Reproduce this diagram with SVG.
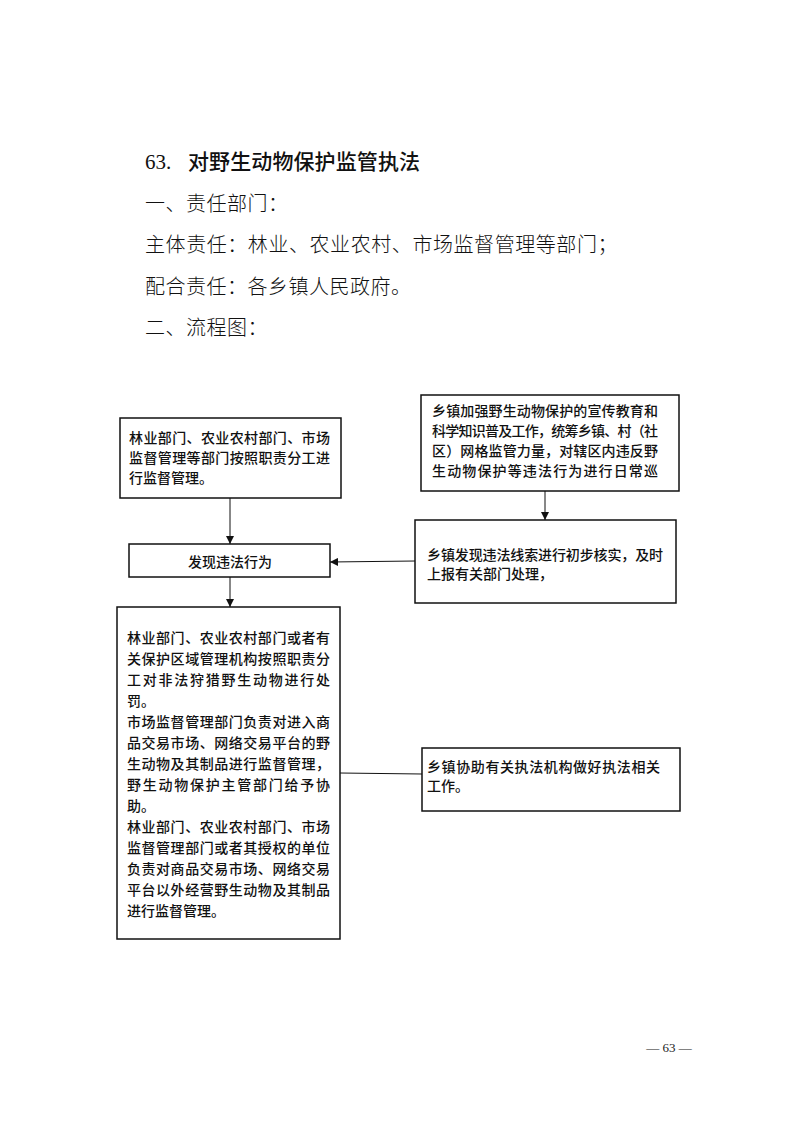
<svg xmlns="http://www.w3.org/2000/svg" width="793" height="1122" viewBox="0 0 793 1122">
<defs>
<style>
.h{font-family:"Noto Sans CJK SC","Noto Sans",sans-serif;font-size:20px;font-weight:300;fill:#111;letter-spacing:0.5px}
.t{font-family:"Noto Sans CJK SC",sans-serif;font-size:21px;font-weight:500;fill:#111}
.n{font-family:"Liberation Serif",serif;font-size:21px;fill:#111}
.b{font-family:"Noto Sans CJK SC",sans-serif;font-size:14px;font-weight:500;fill:#111}
.box{fill:#fff;stroke:#111;stroke-width:1.5}
.ln{fill:none;stroke:#111;stroke-width:1}
.f{font-family:"Liberation Serif",serif;font-size:13px;fill:#222}
</style>
<marker id="ar" viewBox="0 0 10 10" refX="10" refY="5" markerWidth="8" markerHeight="8" markerUnits="userSpaceOnUse" orient="auto">
<path d="M0,0 L10,5 L0,10 z" fill="#111"/>
</marker>
</defs>
<rect width="793" height="1122" fill="#fff"/>

<g id="heading">
<text class="n" x="145" y="169">63.</text>
<text class="t" x="188" y="169" textLength="232">对野生动物保护监管执法</text>
<text class="h" x="145" y="211">一、责任部门：</text>
<text class="h" x="145" y="252" textLength="473">主体责任：林业、农业农村、市场监督管理等部门；</text>
<text class="h" x="145" y="294">配合责任：各乡镇人民政府。</text>
<text class="h" x="145" y="335">二、流程图：</text>
</g>

<g id="connectors">
<line class="ln" x1="230" y1="498" x2="230" y2="544" marker-end="url(#ar)"/>
<line class="ln" x1="545" y1="491" x2="545" y2="520" marker-end="url(#ar)"/>
<line class="ln" x1="415" y1="561" x2="330" y2="562" marker-end="url(#ar)"/>
<line class="ln" x1="230" y1="577" x2="230" y2="607" marker-end="url(#ar)"/>
<line class="ln" x1="340" y1="773" x2="422" y2="774"/>
</g>

<g id="node-dept">
<rect class="box" x="120" y="418" width="221" height="80"/>
<text class="b" x="129" y="443" textLength="201">林业部门、农业农村部门、市场</text>
<text class="b" x="129" y="463" textLength="201">监督管理等部门按照职责分工进</text>
<text class="b" x="129" y="483">行监督管理。</text>
</g>

<g id="node-discover">
<rect class="box" x="129" y="544" width="201" height="33"/>
<text class="b" x="230" y="567" text-anchor="middle">发现违法行为</text>
</g>

<g id="node-town-promo">
<rect class="box" x="421" y="395" width="258" height="96"/>
<text class="b" x="432" y="416" textLength="226">乡镇加强野生动物保护的宣传教育和</text>
<text class="b" x="432" y="436" textLength="226">科学知识普及工作，统筹乡镇、村（社</text>
<text class="b" x="432" y="456" textLength="226">区）网格监管力量，对辖区内违反野</text>
<text class="b" x="432" y="476" textLength="226">生动物保护等违法行为进行日常巡</text>
</g>

<g id="node-town-report">
<rect class="box" x="415" y="520" width="261" height="83"/>
<text class="b" x="427" y="560" textLength="236">乡镇发现违法线索进行初步核实，及时</text>
<text class="b" x="427" y="579">上报有关部门处理，</text>
</g>

<g id="node-punish">
<rect class="box" x="117" y="607" width="223" height="332"/>
<text class="b" x="127" y="643" textLength="203">林业部门、农业农村部门或者有</text>
<text class="b" x="127" y="664" textLength="203">关保护区域管理机构按照职责分</text>
<text class="b" x="127" y="685" textLength="203">工对非法狩猎野生动物进行处</text>
<text class="b" x="127" y="706">罚。</text>
<text class="b" x="127" y="727" textLength="203">市场监督管理部门负责对进入商</text>
<text class="b" x="127" y="748" textLength="203">品交易市场、网络交易平台的野</text>
<text class="b" x="127" y="769" textLength="203">生动物及其制品进行监督管理，</text>
<text class="b" x="127" y="790" textLength="203">野生动物保护主管部门给予协</text>
<text class="b" x="127" y="811">助。</text>
<text class="b" x="127" y="832" textLength="203">林业部门、农业农村部门、市场</text>
<text class="b" x="127" y="853" textLength="203">监督管理部门或者其授权的单位</text>
<text class="b" x="127" y="874" textLength="203">负责对商品交易市场、网络交易</text>
<text class="b" x="127" y="895" textLength="203">平台以外经营野生动物及其制品</text>
<text class="b" x="127" y="916">进行监督管理。</text>
</g>

<g id="node-town-assist">
<rect class="box" x="422" y="748" width="258" height="63"/>
<text class="b" x="427" y="772" textLength="233">乡镇协助有关执法机构做好执法相关</text>
<text class="b" x="427" y="791">工作。</text>
</g>

<g id="footer">
<text class="f" x="669" y="1052" text-anchor="middle">— 63 —</text>
</g>
</svg>
